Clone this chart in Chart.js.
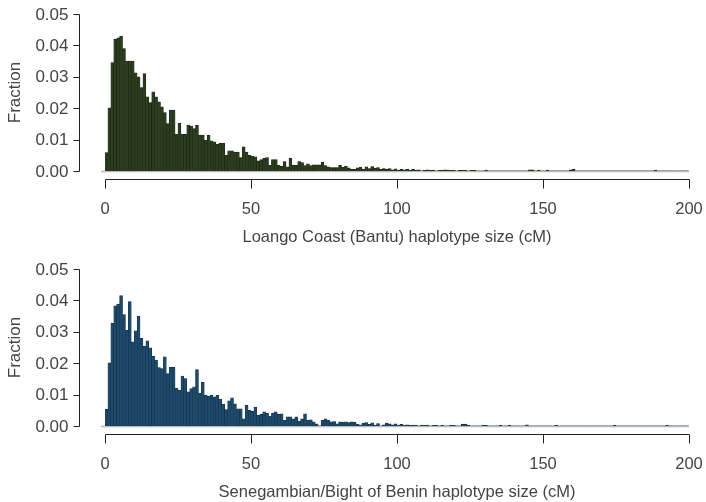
<!DOCTYPE html>
<html>
<head>
<meta charset="utf-8">
<title>Haplotype size distributions</title>
<script src="https://cdn.jsdelivr.net/npm/chart.js@4.4.0/dist/chart.umd.min.js"></script>
<style>
  html, body { margin: 0; padding: 0; background: #ffffff; }
  #wrap { position: relative; width: 706px; height: 502px; overflow: hidden; }
  canvas { position: absolute; left: 0; }
</style>
</head>
<body>
<div id="wrap">
  <canvas id="loango" width="706" height="251" style="top:0"></canvas>
  <canvas id="senegambia" width="706" height="251" style="top:251px"></canvas>
</div>
<script>
// Histogram bins are 1 cM wide, starting at 0 cM.
const binWidth = 1;

// Fraction of haplotypes per 1 cM bin, Loango Coast (Bantu), bins 0..199
const loangoFractions = [
  0.0059, 0.0201, 0.0345, 0.0419, 0.0424, 0.0430, 0.0390, 0.0350, 0.0350, 0.0350,
  0.0313, 0.0300, 0.0266, 0.0310, 0.0236, 0.0218, 0.0252, 0.0236, 0.0220, 0.0204,
  0.0186, 0.0151, 0.0194, 0.0194, 0.0117, 0.0153, 0.0117, 0.0117, 0.0146, 0.0143,
  0.0135, 0.0146, 0.0114, 0.0114, 0.0098, 0.0114, 0.0096, 0.0093, 0.0085, 0.0088,
  0.0089, 0.0050, 0.0064, 0.0064, 0.0060, 0.0060, 0.0043, 0.0077, 0.0060, 0.0050,
  0.0047, 0.0045, 0.0032, 0.0036, 0.0040, 0.0043, 0.0018, 0.0036, 0.0036, 0.0018,
  0.0015, 0.0030, 0.0013, 0.0040, 0.0018, 0.0018, 0.0030, 0.0027, 0.0017, 0.0023,
  0.0017, 0.0020, 0.0020, 0.0020, 0.0028, 0.0017, 0.0013, 0.0011, 0.0011, 0.0011,
  0.0018, 0.0012, 0.0016, 0.0010, 0.0006, 0.0005, 0.0010, 0.0012, 0.0006, 0.0013,
  0.0008, 0.0014, 0.0009, 0.0011, 0.0005, 0.0008, 0.0006, 0.0008, 0.0004, 0.0007,
  0.0003, 0.0005, 0.0004, 0.0006, 0.0002, 0.0005, 0.0003, 0.0004, 0.0000, 0.0003,
  0.0004, 0.0002, 0.0003, 0.0000, 0.0002, 0.0003, 0.0004, 0.0003, 0.0002, 0.0003,
  0.0000, 0.0002, 0.0003, 0.0002, 0.0000, 0.0002, 0.0002, 0.0000, 0.0000, 0.0000,
  0.0003, 0.0000, 0.0000, 0.0000, 0.0000, 0.0000, 0.0000, 0.0000, 0.0000, 0.0000,
  0.0000, 0.0000, 0.0000, 0.0000, 0.0000, 0.0004, 0.0004, 0.0000, 0.0003, 0.0000,
  0.0000, 0.0003, 0.0000, 0.0000, 0.0000, 0.0000, 0.0000, 0.0000, 0.0000, 0.0004,
  0.0005, 0.0000, 0.0000, 0.0000, 0.0000, 0.0000, 0.0000, 0.0000, 0.0000, 0.0000,
  0.0000, 0.0000, 0.0000, 0.0000, 0.0000, 0.0000, 0.0000, 0.0000, 0.0000, 0.0000,
  0.0000, 0.0000, 0.0000, 0.0000, 0.0000, 0.0000, 0.0000, 0.0000, 0.0003, 0.0000,
  0.0000, 0.0000, 0.0000, 0.0000, 0.0000, 0.0000, 0.0000, 0.0000, 0.0000, 0.0000
];

// Fraction of haplotypes per 1 cM bin, Senegambia / Bight of Benin, bins 0..199
const senegambiaFractions = [
  0.0053, 0.0201, 0.0327, 0.0383, 0.0388, 0.0415, 0.0355, 0.0305, 0.0396, 0.0268,
  0.0303, 0.0350, 0.0279, 0.0254, 0.0271, 0.0249, 0.0222, 0.0210, 0.0186, 0.0183,
  0.0220, 0.0167, 0.0188, 0.0188, 0.0121, 0.0114, 0.0159, 0.0151, 0.0109, 0.0119,
  0.0125, 0.0180, 0.0105, 0.0140, 0.0098, 0.0095, 0.0098, 0.0093, 0.0098, 0.0086,
  0.0070, 0.0052, 0.0080, 0.0090, 0.0071, 0.0055, 0.0055, 0.0023, 0.0066, 0.0050,
  0.0047, 0.0060, 0.0034, 0.0037, 0.0045, 0.0041, 0.0031, 0.0041, 0.0045, 0.0037,
  0.0039, 0.0018, 0.0029, 0.0029, 0.0023, 0.0029, 0.0016, 0.0023, 0.0039, 0.0018,
  0.0020, 0.0013, 0.0007, 0.0000, 0.0018, 0.0023, 0.0018, 0.0013, 0.0014, 0.0007,
  0.0013, 0.0012, 0.0013, 0.0011, 0.0013, 0.0012, 0.0006, 0.0004, 0.0009, 0.0011,
  0.0005, 0.0010, 0.0003, 0.0008, 0.0000, 0.0004, 0.0009, 0.0007, 0.0004, 0.0007,
  0.0003, 0.0005, 0.0003, 0.0004, 0.0002, 0.0003, 0.0003, 0.0000, 0.0003, 0.0002,
  0.0003, 0.0000, 0.0002, 0.0002, 0.0000, 0.0002, 0.0000, 0.0000, 0.0002, 0.0002,
  0.0000, 0.0000, 0.0006, 0.0006, 0.0003, 0.0000, 0.0000, 0.0000, 0.0000, 0.0003,
  0.0002, 0.0000, 0.0000, 0.0000, 0.0000, 0.0002, 0.0000, 0.0000, 0.0003, 0.0000,
  0.0000, 0.0000, 0.0000, 0.0000, 0.0004, 0.0000, 0.0000, 0.0000, 0.0000, 0.0000,
  0.0000, 0.0000, 0.0000, 0.0000, 0.0003, 0.0000, 0.0000, 0.0000, 0.0000, 0.0000,
  0.0000, 0.0000, 0.0000, 0.0000, 0.0000, 0.0000, 0.0000, 0.0000, 0.0000, 0.0000,
  0.0000, 0.0000, 0.0000, 0.0000, 0.0003, 0.0000, 0.0000, 0.0000, 0.0000, 0.0000,
  0.0000, 0.0000, 0.0000, 0.0000, 0.0000, 0.0000, 0.0000, 0.0000, 0.0000, 0.0000,
  0.0000, 0.0000, 0.0003, 0.0000, 0.0000, 0.0000, 0.0000, 0.0000, 0.0000, 0.0000
];

// Axis ticks
const xTicks = [0, 50, 100, 150, 200];
const yTicks = [0.00, 0.01, 0.02, 0.03, 0.04, 0.05];
const yTickLabels = ['0.00', '0.01', '0.02', '0.03', '0.04', '0.05'];

const xTitleLoango = 'Loango Coast (Bantu) haplotype size (cM)';
const xTitleSenegambia = 'Senegambian/Bight of Benin haplotype size (cM)';
const yTitle = 'Fraction';

const FONT = '"Liberation Sans", Arial, Helvetica, sans-serif';
const TEXT_COLOR = '#444444';
const AXIS_COLOR = '#222222';

function toPoints(values) {
  return values.map((v, i) => ({ x: (i + 0.5) * binWidth, y: v }));
}

// Base-graphics style axes: detached from the plot region, spanning the tick range only.
const detachedAxes = {
  id: 'detachedAxes',
  beforeDatasetsDraw(chart) {
    const { ctx, scales: { x, y } } = chart;
    const y0 = Math.round(y.getPixelForValue(0)) + 0.5;
    ctx.save();
    ctx.strokeStyle = '#b8b8b8';
    ctx.lineWidth = 1.6;
    ctx.beginPath();
    ctx.moveTo(x.getPixelForValue(0) - 4, y0);
    ctx.lineTo(x.getPixelForValue(200), y0);
    ctx.stroke();
    ctx.restore();
  },
  afterDraw(chart, args, opts) {
    const { ctx, scales: { x, y } } = chart;
    ctx.save();
    ctx.strokeStyle = AXIS_COLOR;
    ctx.fillStyle = TEXT_COLOR;
    ctx.lineWidth = 1;

    // y axis
    const ax = opts.yAxisX + 0.5;
    ctx.beginPath();
    ctx.moveTo(ax, Math.round(y.getPixelForValue(yTicks[yTicks.length - 1])) + 0.5);
    ctx.lineTo(ax, Math.round(y.getPixelForValue(yTicks[0])) + 0.5);
    yTicks.forEach(v => {
      const py = Math.round(y.getPixelForValue(v)) + 0.5;
      ctx.moveTo(ax, py);
      ctx.lineTo(ax - 6, py);
    });
    ctx.stroke();
    ctx.font = '17px ' + FONT;
    ctx.textAlign = 'right';
    ctx.textBaseline = 'middle';
    yTicks.forEach((v, i) => {
      ctx.fillText(yTickLabels[i], ax - 11, y.getPixelForValue(v) + 1);
    });

    // y title
    ctx.save();
    ctx.translate(opts.yTitleX, (y.getPixelForValue(yTicks[0]) + y.getPixelForValue(yTicks[yTicks.length - 1])) / 2);
    ctx.rotate(-Math.PI / 2);
    ctx.textAlign = 'center';
    ctx.textBaseline = 'middle';
    ctx.font = '17px ' + FONT;
    ctx.fillText(yTitle, 0, 0);
    ctx.restore();

    // x axis
    const ay = Math.round(y.getPixelForValue(0)) + opts.xAxisGap + 0.5;
    ctx.beginPath();
    ctx.moveTo(Math.round(x.getPixelForValue(xTicks[0])) + 0.5, ay);
    ctx.lineTo(Math.round(x.getPixelForValue(xTicks[xTicks.length - 1])) + 0.5, ay);
    xTicks.forEach(v => {
      const px = Math.round(x.getPixelForValue(v)) + 0.5;
      ctx.moveTo(px, ay);
      ctx.lineTo(px, ay + 9);
    });
    ctx.stroke();
    ctx.font = '16.5px ' + FONT;
    ctx.textAlign = 'center';
    ctx.textBaseline = 'middle';
    xTicks.forEach(v => {
      ctx.fillText(String(v), x.getPixelForValue(v), ay + 30);
    });
    ctx.font = '16.5px ' + FONT;
    ctx.fillText(opts.xTitle, (x.getPixelForValue(xTicks[0]) + x.getPixelForValue(xTicks[xTicks.length - 1])) / 2, ay + 58);
    ctx.restore();
  }
};

function makeHistogram(canvasId, values, fill, edge, padTop, xTitle) {
  return new Chart(document.getElementById(canvasId), {
    type: 'bar',
    data: {
      datasets: [{
        data: toPoints(values),
        backgroundColor: fill,
        borderColor: edge,
        borderWidth: ctx => (ctx.raw && ctx.raw.y > 0 ? 0.6 : 0),
        borderSkipped: 'start',
        barPercentage: 1.0,
        categoryPercentage: 1.0,
        grouped: false
      }]
    },
    options: {
      responsive: false,
      animation: false,
      devicePixelRatio: 1,
      layout: { padding: { left: 105, right: 17, top: padTop, bottom: 251 - padTop - 157 } },
      plugins: {
        legend: { display: false },
        tooltip: { enabled: false },
        detachedAxes: { yAxisX: 79, yTitleX: 15, xAxisGap: 8, xTitle: xTitle }
      },
      scales: {
        x: { type: 'linear', min: 0, max: 200, display: false, offset: false },
        y: { type: 'linear', min: 0, max: 0.05, display: false }
      }
    },
    plugins: [detachedAxes]
  });
}

makeHistogram('loango', loangoFractions, '#2c3d1f', '#1a2512', 14, xTitleLoango);
makeHistogram('senegambia', senegambiaFractions, '#1d4a6a', '#123048', 18, xTitleSenegambia);
</script>
</body>
</html>
